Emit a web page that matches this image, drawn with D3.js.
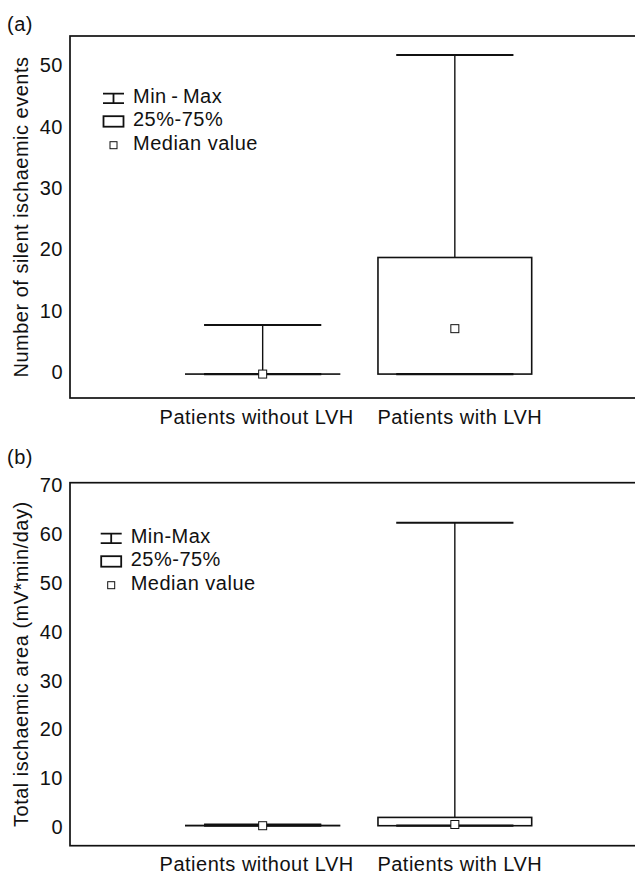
<!DOCTYPE html>
<html>
<head>
<meta charset="utf-8">
<script src="https://cdn.jsdelivr.net/npm/d3@7"></script>
<style>
  html, body { margin: 0; padding: 0; background: #fff; overflow: hidden; }
  svg { display: block; font-family: "Liberation Sans", Arial, Helvetica, sans-serif; }
  text { fill: #111; font-size: 20px; letter-spacing: 0.5px; }
</style>
</head>
<body>
<div id="chart"></div>
<script>
// Categories (x axis)
const categories = ['Patients without LVH', 'Patients with LVH'];

// (a) Number of silent ischaemic events
const eventsMin = [0, 0];
const eventsQ1 = [0, 0];
const eventsMedian = [0, 7.4];
const eventsQ3 = [0, 19];
const eventsMax = [8, 52];
const eventsTicks = [0, 10, 20, 30, 40, 50];

// (b) Total ischaemic area
const areaMin = [0, 0];
const areaQ1 = [0, 0];
const areaMedian = [0, 0.25];
const areaQ3 = [0.05, 1.7];
const areaMax = [0.25, 62];
const areaTicks = [0, 10, 20, 30, 40, 50, 60, 70];

const W = 635, H = 874;
const ink = '#111';

const svg = d3.select('#chart').append('svg')
    .attr('width', W)
    .attr('height', H);

function buildRows(mins, q1s, meds, q3s, maxs) {
    return categories.map((c, i) => ({
        cat: c, min: mins[i], q1: q1s[i], median: meds[i], q3: q3s[i], max: maxs[i]
    }));
}

const panels = [
    {
        tag: '(a)', tagY: 31,
        top: 36, bottom: 398, domain: [-3.9, 55.1],
        ticks: eventsTicks, tickNudge: -2.5,
        title: 'Number of silent ischaemic events',
        rows: buildRows(eventsMin, eventsQ1, eventsMedian, eventsQ3, eventsMax),
        legend: { x: 103, y: 102.7, minMax: 'Min\u2009-\u2009Max' }
    },
    {
        tag: '(b)', tagY: 464,
        top: 482.7, bottom: 845.7, domain: [-4.09, 70.2],
        ticks: areaTicks, tickNudge: 1,
        title: 'Total ischaemic area (mV*min/day)',
        rows: buildRows(areaMin, areaQ1, areaMedian, areaQ3, areaMax),
        legend: { x: 100.7, y: 542.7, minMax: 'Min-Max' }
    }
];

const left = 70, right = 647;
const labelShift = [-6, 5];

panels.forEach(p => {
    const x = d3.scalePoint().domain(categories).range([left + 0.5, right]).padding(1);
    const y = d3.scaleLinear().domain(p.domain).range([p.bottom, p.top]);
    const step = x.step();
    const boxW = step * 0.8;
    const capW = step * 0.61;

    const g = svg.append('g');

    // panel tag
    g.append('text').attr('x', 7).attr('y', p.tagY).text(p.tag);

    // frame (right edge runs off the picture)
    g.append('rect')
        .attr('x', left).attr('y', p.top)
        .attr('width', right - left).attr('height', p.bottom - p.top)
        .attr('fill', 'none').attr('stroke', ink).attr('stroke-width', 1.7);

    // y axis labels, no tick marks
    const axis = g.append('g')
        .attr('transform', `translate(${left},0)`)
        .call(d3.axisLeft(y).tickValues(p.ticks).tickSize(0).tickPadding(7).tickFormat(d3.format('d')));
    axis.select('.domain').remove();
    axis.selectAll('text')
        .attr('dy', null)
        .attr('y', p.tickNudge)
        .attr('dominant-baseline', 'central')
        .style('font-size', '20px')
        .style('font-family', '"Liberation Sans", Arial, sans-serif')
        .attr('fill', ink);

    // y title
    g.append('text')
        .attr('transform', `translate(28,${(p.top + p.bottom) / 2}) rotate(-90)`)
        .attr('text-anchor', 'middle')
        .text(p.title);

    // x labels
    g.selectAll('.xlab')
        .data(categories)
        .enter()
        .append('text')
        .attr('class', 'xlab')
        .attr('x', (d, i) => x(d) + labelShift[i])
        .attr('y', p.bottom + 25.5)
        .attr('text-anchor', 'middle')
        .text(d => d);

    // boxes
    const box = g.selectAll('.box')
        .data(p.rows)
        .enter()
        .append('g')
        .attr('class', 'box');

    box.append('line')
        .attr('x1', d => x(d.cat)).attr('x2', d => x(d.cat))
        .attr('y1', d => y(d.q3)).attr('y2', d => y(d.max))
        .attr('stroke', ink).attr('stroke-width', 1.4);

    box.append('rect')
        .attr('x', d => x(d.cat) - boxW / 2)
        .attr('y', d => y(d.q3))
        .attr('width', boxW)
        .attr('height', d => Math.max(0.01, y(d.q1) - y(d.q3)))
        .attr('fill', 'none').attr('stroke', ink).attr('stroke-width', 1.6);

    box.append('line')
        .attr('x1', d => x(d.cat) - capW / 2).attr('x2', d => x(d.cat) + capW / 2)
        .attr('y1', d => y(d.max)).attr('y2', d => y(d.max))
        .attr('stroke', ink).attr('stroke-width', 2.2);

    box.append('line')
        .attr('x1', d => x(d.cat) - capW / 2).attr('x2', d => x(d.cat) + capW / 2)
        .attr('y1', d => y(d.min)).attr('y2', d => y(d.min))
        .attr('stroke', ink).attr('stroke-width', 2.2);

    box.append('rect')
        .attr('x', d => x(d.cat) - 4)
        .attr('y', d => y(d.median) - 4)
        .attr('width', 8).attr('height', 8)
        .attr('fill', '#fff').attr('stroke', ink).attr('stroke-width', 1);

    // legend
    const L = p.legend;
    const lg = g.append('g');
    const iw = 21, tx = L.x + 30, gap = 23.5;

    lg.append('path')
        .attr('d', `M${L.x},${L.y - 9}H${L.x + iw}M${L.x + iw / 2},${L.y - 9}V${L.y + 0.5}M${L.x},${L.y + 0.5}H${L.x + iw}`)
        .attr('fill', 'none').attr('stroke', ink).attr('stroke-width', 1.8);
    lg.append('text').attr('x', tx).attr('y', L.y).text(L.minMax);

    lg.append('rect')
        .attr('x', L.x + 0.5).attr('y', L.y + gap - 10)
        .attr('width', iw - 1).attr('height', 10.5)
        .attr('fill', 'none').attr('stroke', ink).attr('stroke-width', 1.8);
    lg.append('text').attr('x', tx).attr('y', L.y + gap).text('25%-75%');

    lg.append('rect')
        .attr('x', L.x + iw / 2 - 3.5).attr('y', L.y + 2 * gap - 8)
        .attr('width', 7).attr('height', 7)
        .attr('fill', '#fff').attr('stroke', ink).attr('stroke-width', 1);
    lg.append('text').attr('x', tx).attr('y', L.y + 2 * gap).text('Median value');
});
</script>
</body>
</html>
